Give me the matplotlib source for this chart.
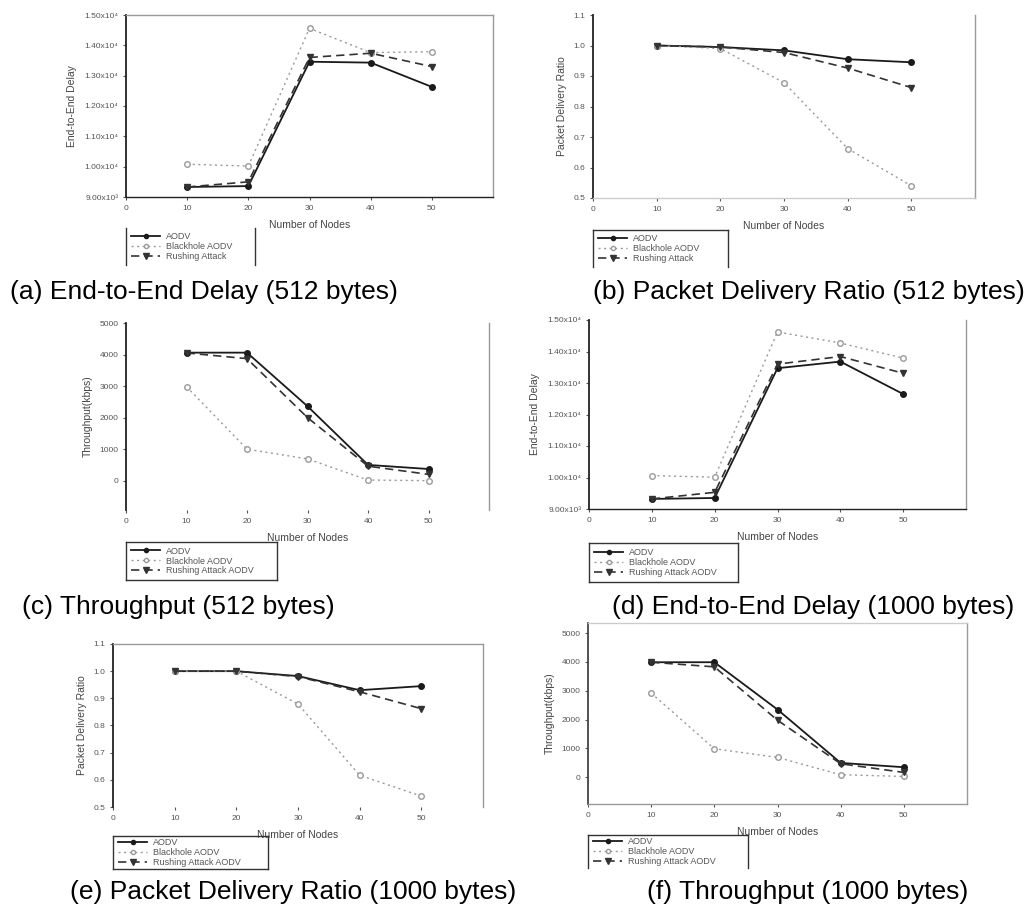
import matplotlib
matplotlib.use("Agg")
import matplotlib.pyplot as plt
from matplotlib.lines import Line2D

W, H = 1029, 908

nodes = [10, 20, 30, 40, 50]
x_ticks = [0, 10, 20, 30, 40, 50]

# (a) End-to-end delay, 512 bytes
delay512_aodv = [9330, 9360, 13460, 13430, 12630]
delay512_black = [10080, 10020, 14560, 13760, 13790]
delay512_rush = [9330, 9500, 13600, 13740, 13300]

# (b) Packet delivery ratio, 512 bytes
pdr512_aodv = [1.0, 0.995, 0.984, 0.955, 0.945]
pdr512_black = [1.0, 0.99, 0.878, 0.662, 0.54]
pdr512_rush = [1.0, 0.995, 0.977, 0.926, 0.862]

# (c) Throughput, 512 bytes
thr512_aodv = [4060, 4060, 2360, 500, 370]
thr512_black = [2980, 1000, 690, 20, 0]
thr512_rush = [4050, 3870, 2000, 460, 200]

# (d) End-to-end delay, 1000 bytes
delay1000_aodv = [9320, 9350, 13470, 13680, 12650]
delay1000_black = [10060, 10010, 14620, 14270, 13790]
delay1000_rush = [9320, 9530, 13600, 13840, 13310]

# (e) Packet delivery ratio, 1000 bytes
pdr1000_aodv = [1.0, 1.0, 0.982, 0.93, 0.945]
pdr1000_black = [1.0, 1.0, 0.879, 0.617, 0.54]
pdr1000_rush = [1.0, 1.0, 0.98, 0.924, 0.862]

# (f) Throughput, 1000 bytes
thr1000_aodv = [3990, 3990, 2350, 500, 350]
thr1000_black = [2920, 990, 690, 90, 30]
thr1000_rush = [3990, 3830, 1980, 470, 170]

delay_ticks = [9000, 10000, 11000, 12000, 13000, 14000, 15000]
delay_labels = ["9.00x10\u00b3", "1.00x10\u2074", "1.10x10\u2074", "1.20x10\u2074",
                "1.30x10\u2074", "1.40x10\u2074", "1.50x10\u2074"]
pdr_ticks = [0.5, 0.6, 0.7, 0.8, 0.9, 1.0, 1.1]
pdr_labels = ["0.5", "0.6", "0.7", "0.8", "0.9", "1.0", "1.1"]
thr_ticks = [0, 1000, 2000, 3000, 4000, 5000]
thr_labels = ["0", "1000", "2000", "3000", "4000", "5000"]

legend_short = ["AODV", "Blackhole AODV", "Rushing Attack"]
legend_long = ["AODV", "Blackhole AODV", "Rushing Attack AODV"]

captions = [
    "(a) End-to-End Delay (512 bytes)",
    "(b) Packet Delivery Ratio (512 bytes)",
    "(c) Throughput (512 bytes)",
    "(d) End-to-End Delay (1000 bytes)",
    "(e) Packet Delivery Ratio (1000 bytes)",
    "(f) Throughput (1000 bytes)",
]

STYLES = [
    dict(color="#1a1a1a", ls="-", lw=1.3, marker="o", ms=4, mfc="#1a1a1a"),
    dict(color="#9a9a9a", ls=(0, (1.5, 2.5)), lw=1.0, marker="o", ms=4, mfc="white"),
    dict(color="#333333", ls=(0, (5, 3)), lw=1.2, marker="v", ms=5, mfc="#333333"),
]

fig = plt.figure(figsize=(W / 100, H / 100), dpi=100)
plt.rcParams["font.family"] = ["Liberation Sans", "DejaVu Sans"]


def px_axes(left, top, right, bottom):
    return fig.add_axes([left / W, 1 - bottom / H, (right - left) / W, (bottom - top) / H])


def panel(box, series, ylim, yticks, ylabels, ylabel, spines, legend_box, names, legend_sides):
    ax = px_axes(*box)
    for vals, st in zip(series, STYLES):
        ax.plot(nodes, vals, color=st["color"], ls=st["ls"], lw=st["lw"],
                marker=st["marker"], ms=st["ms"], mfc=st["mfc"], mec=st["color"])
    ax.set_xlim(0, 60)
    ax.set_ylim(*ylim)
    ax.set_xticks(x_ticks)
    ax.set_yticks(yticks)
    ax.set_yticklabels(ylabels)
    ax.tick_params(labelsize=6, colors="#555555", length=2.5, width=0.8, pad=3)
    ax.set_xlabel("Number of Nodes", fontsize=7.5, color="#444444", labelpad=6)
    ax.set_ylabel(ylabel, fontsize=7.5, color="#444444", labelpad=5)
    for side in ["left", "right", "top", "bottom"]:
        c = spines.get(side)
        if c is None:
            ax.spines[side].set_visible(False)
        else:
            ax.spines[side].set_color(c)
            ax.spines[side].set_linewidth(1.3 if side == "left" else 1.0)

    lax = px_axes(*legend_box)
    lax.set_xticks([])
    lax.set_yticks([])
    lax.patch.set_alpha(0)
    for side, s in lax.spines.items():
        s.set_visible(side in legend_sides)
        s.set_color("#333333")
        s.set_linewidth(1.0)
    handles = [Line2D([], [], color=st["color"], ls=st["ls"], lw=st["lw"],
                      marker=st["marker"], ms=st["ms"] - 1, mfc=st["mfc"], mec=st["color"])
               for st in STYLES]
    lax.legend(handles, names, loc="center left", frameon=False, fontsize=6.5,
               handlelength=3.2, labelspacing=0.1, borderaxespad=0.2,
               handletextpad=0.6, labelcolor="#555555")
    return ax


dark = "#222222"
gray = "#999999"
light = "#cccccc"
box_all = ("left", "right", "top", "bottom")

panel((126, 15, 493, 197), [delay512_aodv, delay512_black, delay512_rush],
      (9000, 15000), delay_ticks, delay_labels, "End-to-End Delay",
      dict(left=dark, bottom=dark, right=gray, top=gray),
      (126, 228, 255, 265), legend_short, ("left", "right"))

panel((593, 15, 975, 198), [pdr512_aodv, pdr512_black, pdr512_rush],
      (0.5, 1.1), pdr_ticks, pdr_labels, "Packet Delivery Ratio",
      dict(left=dark, bottom=light, right=gray),
      (593, 230, 728, 267), legend_short, ("left", "right", "top"))

panel((126, 323, 489, 510), [thr512_aodv, thr512_black, thr512_rush],
      (-930, 5000), thr_ticks, thr_labels, "Throughput(kbps)",
      dict(left=dark, right=gray),
      (126, 542, 277, 580), legend_long, box_all)

panel((589, 320, 966, 509), [delay1000_aodv, delay1000_black, delay1000_rush],
      (9000, 15000), delay_ticks, delay_labels, "End-to-End Delay",
      dict(left=dark, bottom=dark, right=gray),
      (589, 543, 738, 582), legend_long, box_all)

panel((113, 644, 483, 807), [pdr1000_aodv, pdr1000_black, pdr1000_rush],
      (0.5, 1.1), pdr_ticks, pdr_labels, "Packet Delivery Ratio",
      dict(left=dark, top=gray, right=gray),
      (113, 836, 268, 869), legend_long, box_all)

panel((588, 623, 967, 804), [thr1000_aodv, thr1000_black, thr1000_rush],
      (-925, 5350), thr_ticks, thr_labels, "Throughput(kbps)",
      dict(left="#444444", bottom=gray, right=gray, top=light),
      (588, 835, 748, 868), legend_long, ("left", "top", "right"))

caption_pos = [(10, 292), (593, 292), (22, 607), (612, 607), (70, 892), (647, 892)]
for (cx, cy), text in zip(caption_pos, captions):
    fig.text(cx / W, 1 - cy / H, text, fontsize=19, ha="left", va="center", color="black")

fig.savefig("out.png", dpi=100)
